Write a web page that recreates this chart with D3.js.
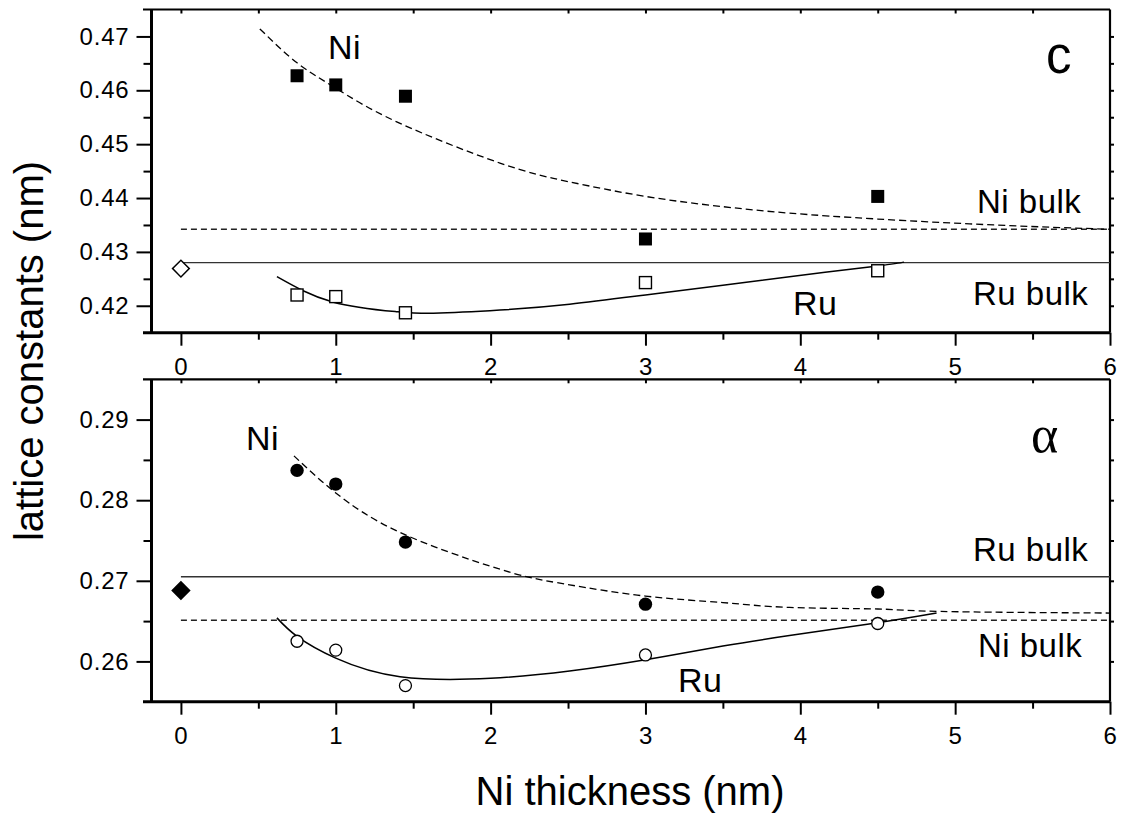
<!DOCTYPE html>
<html>
<head>
<meta charset="utf-8">
<script src="https://cdn.jsdelivr.net/npm/d3@7"></script>
<style>
 body { margin: 0; background: #fff; }
 text { font-family: "Liberation Sans", Arial, sans-serif; fill: #000; }
</style>
</head>
<body>
<div id="chart"></div>
<script>
//Ni layer thickness of the measured samples (nm).
var thickness = [0.75, 1.0, 1.45, 3.0, 4.5];

//Lattice constant c (nm).
var cNi = [0.4627, 0.4610, 0.4589, 0.4324, 0.4403];
var cRu = [0.4220, 0.4217, 0.4187, 0.4243, 0.4265];
var cSubstrate = 0.4269;
var cNiBulk = 0.4342;
var cRuBulk = 0.4280;

//Lattice constant a (nm).
var aNi = [0.2837, 0.2820, 0.2748, 0.2671, 0.2686];
var aRu = [0.2625, 0.2614, 0.2570, 0.2608, 0.2647];
var aSubstrate = 0.2688;
var aNiBulk = 0.2651;
var aRuBulk = 0.2705;

//Fit curves.
var cNiFitX = [0.51, 0.75, 1.0, 1.39, 2.06, 2.51, 3.0, 3.5, 3.93, 4.5, 5.25, 6.0];
var cNiFitY = [0.4714, 0.4651, 0.4604, 0.4542, 0.4465, 0.4430, 0.4403, 0.4384, 0.4372, 0.4361, 0.4350, 0.4342];
var cRuFitX = [0.62, 0.98, 1.39, 1.63, 2.06, 2.51, 3.0, 3.5, 3.93, 4.5, 4.67];
var cRuFitY = [0.4254, 0.4207, 0.4189, 0.4186, 0.4192, 0.4203, 0.4220, 0.4238, 0.4254, 0.4274, 0.4281];
var aNiFitX = [0.73, 1.0, 1.415, 2.0, 2.28, 2.51, 3.0, 3.5, 3.93, 4.5, 4.9, 6.0];
var aNiFitY = [0.2855, 0.2809, 0.2760, 0.2718, 0.2703, 0.2695, 0.2681, 0.2673, 0.2667, 0.2665, 0.2662, 0.2660];
var aRuFitX = [0.62, 0.75, 1.0, 1.415, 2.0, 2.51, 3.0, 3.5, 3.93, 4.5, 4.88];
var aRuFitY = [0.2654, 0.2631, 0.2604, 0.2581, 0.2579, 0.2588, 0.2602, 0.2619, 0.2632, 0.2648, 0.2660];

//Tick labels.
var xTicks = [0, 1, 2, 3, 4, 5, 6];
var xMinor = [0.5, 1.5, 2.5, 3.5, 4.5, 5.5];
var cTicks = [0.42, 0.43, 0.44, 0.45, 0.46, 0.47];
var cMinor = [0.425, 0.435, 0.445, 0.455, 0.465];
var aTicks = [0.26, 0.27, 0.28, 0.29];
var aMinor = [0.265, 0.275, 0.285];

window.onload = function()
{
 var svg = d3.select("#chart").append("svg").attr("width", 1125).attr("height", 817);

 //Shared x scale, one y scale per panel.
 var left = 151.5, right = 1110;
 var x = d3.scaleLinear().domain([-0.19, 6]).range([left, right]);
 var yC = d3.scaleLinear().domain([0.415, 0.475]).range([332.7, 9.5]);
 var yA = d3.scaleLinear().domain([0.255, 0.295]).range([701.7, 379.3]);

 var line = function(y)
 {
  return d3.line().x(function(d) { return x(d[0]); }).y(function(d) { return y(d[1]); }).curve(d3.curveNatural);
 };

 function drawPanel(y, ticks, minor, p)
 {
  var top = y.range()[1], bottom = y.range()[0];
  var g = svg.append("g");

  //Minor ticks first, then major axes on top.
  g.append("g").attr("transform", "translate(" + left + ",0)")
   .call(d3.axisLeft(y).tickValues(minor).tickSize(8).tickFormat(""));
  g.append("g").attr("transform", "translate(0," + bottom + ")")
   .call(d3.axisBottom(x).tickValues(xMinor).tickSize(7).tickFormat(""));
  g.append("g").attr("transform", "translate(" + right + ",0)")
   .call(d3.axisLeft(y).tickValues(minor.concat(ticks)).tickSize(-4).tickFormat(""));
  g.append("g").attr("transform", "translate(0," + top + ")")
   .call(d3.axisTop(x).tickValues(xMinor.concat(xTicks.slice(0, 6))).tickSize(-4).tickFormat(""));

  g.append("g").attr("transform", "translate(" + left + ",0)")
   .call(d3.axisLeft(y).tickValues(ticks).tickSize(15).tickPadding(7).tickFormat(d3.format(".2f")));
  g.append("g").attr("transform", "translate(0," + bottom + ")")
   .call(d3.axisBottom(x).tickValues(xTicks).tickSize(13).tickPadding(12).tickFormat(d3.format("d")));

  g.selectAll(".domain").remove();
  g.selectAll(".tick line").attr("stroke", "#000").attr("stroke-width", 2);
  g.selectAll(".tick text").style("font-size", "24px").attr("letter-spacing", "0.8px");

  //Frame.
  g.append("line").attr("x1", 143).attr("x2", right).attr("y1", top).attr("y2", top).attr("stroke", "#000").attr("stroke-width", 2.2);
  g.append("line").attr("x1", 143).attr("x2", right).attr("y1", bottom).attr("y2", bottom).attr("stroke", "#000").attr("stroke-width", 3);
  g.append("line").attr("x1", left).attr("x2", left).attr("y1", top).attr("y2", bottom).attr("stroke", "#000").attr("stroke-width", 3);
  g.append("line").attr("x1", right).attr("x2", right).attr("y1", top).attr("y2", bottom).attr("stroke", "#000").attr("stroke-width", 2.2);

  //Bulk reference lines.
  g.append("line").attr("x1", x(0)).attr("x2", x(6)).attr("y1", y(p.niBulk)).attr("y2", y(p.niBulk))
   .attr("stroke", "#222").attr("stroke-width", 1.4).attr("stroke-dasharray", "6,4");
  g.append("line").attr("x1", x(0)).attr("x2", x(6)).attr("y1", y(p.ruBulk)).attr("y2", y(p.ruBulk))
   .attr("stroke", "#333").attr("stroke-width", 1.4);

  //Fit curves.
  g.append("path").datum(d3.zip(p.niFitX, p.niFitY)).attr("d", line(y))
   .attr("fill", "none").attr("stroke", "#000").attr("stroke-width", 1.3).attr("stroke-dasharray", "7,4");
  g.append("path").datum(d3.zip(p.ruFitX, p.ruFitY)).attr("d", line(y))
   .attr("fill", "none").attr("stroke", "#000").attr("stroke-width", 1.5);

  //Substrate point at zero thickness.
  g.append("path").attr("d", d3.symbol().type(d3.symbolSquare).size(p.diamondFill ? 150 : 140)())
   .attr("transform", "translate(" + x(0) + "," + y(p.substrate) + ") rotate(45)")
   .attr("fill", p.diamondFill ? "#000" : "#fff").attr("stroke", "#000").attr("stroke-width", 1.5);

  //Measured Ni and Ru points.
  var ni = g.selectAll(".ni").data(d3.zip(thickness, p.ni)).enter();
  var ru = g.selectAll(".ru").data(d3.zip(thickness, p.ru)).enter();
  if (p.squares)
  {
   ru.append("rect").attr("x", function(d) { return x(d[0]) - 6; }).attr("y", function(d) { return y(d[1]) - 6; })
    .attr("width", 12).attr("height", 12).attr("fill", "#fff").attr("stroke", "#000").attr("stroke-width", 1.4);
   ni.append("rect").attr("x", function(d) { return x(d[0]) - 6.5; }).attr("y", function(d) { return y(d[1]) - 6.5; })
    .attr("width", 13).attr("height", 13).attr("fill", "#000");
  }
  else
  {
   ru.append("circle").attr("cx", function(d) { return x(d[0]); }).attr("cy", function(d) { return y(d[1]); })
    .attr("r", 6).attr("fill", "#fff").attr("stroke", "#000").attr("stroke-width", 1.3);
   ni.append("circle").attr("cx", function(d) { return x(d[0]); }).attr("cy", function(d) { return y(d[1]); })
    .attr("r", 6.7).attr("fill", "#000");
  }

  //Annotations, positioned in data units.
  p.labels.forEach(function(l)
  {
   g.append("text").attr("x", x(l[1])).attr("y", y(l[2])).text(l[0])
    .attr("font-size", l[3]).attr("letter-spacing", l[4] || "0.5px")
    .style("font-family", l[5] || "Liberation Sans, Arial, sans-serif");
  });
 }

 drawPanel(yC, cTicks, cMinor, {
  ni: cNi, ru: cRu, substrate: cSubstrate, diamondFill: false, squares: true,
  niBulk: cNiBulk, ruBulk: cRuBulk,
  niFitX: cNiFitX, niFitY: cNiFitY, ruFitX: cRuFitX, ruFitY: cRuFitY,
  labels: [["Ni", 0.95, 0.4659, 34], ["c", 5.587, 0.4632, 51, "0px"], ["Ni bulk", 5.141, 0.4372, 33],
           ["Ru bulk", 5.115, 0.4201, 33], ["Ru", 3.953, 0.4183, 34]]
 });

 drawPanel(yA, aTicks, aMinor, {
  ni: aNi, ru: aRu, substrate: aSubstrate, diamondFill: true, squares: false,
  niBulk: aNiBulk, ruBulk: aRuBulk,
  niFitX: aNiFitX, niFitY: aNiFitY, ruFitX: aRuFitX, ruFitY: aRuFitY,
  labels: [["Ni", 0.42, 0.2862, 34], ["\u03b1", 5.49, 0.2860, 52, "0px", "Liberation Serif, Times New Roman, serif"],
           ["Ru bulk", 5.115, 0.2724, 33], ["Ni bulk", 5.147, 0.2606, 33], ["Ru", 3.21, 0.2562, 34]]
 });

 //Axis titles.
 svg.append("text").attr("x", 630).attr("y", 805).attr("text-anchor", "middle")
  .attr("font-size", 40).text("Ni thickness (nm)");
 svg.append("text").attr("transform", "translate(43,351) rotate(-90)").attr("text-anchor", "middle")
  .attr("font-size", 40).text("lattice constants (nm)");
}
</script>
</body>
</html>
